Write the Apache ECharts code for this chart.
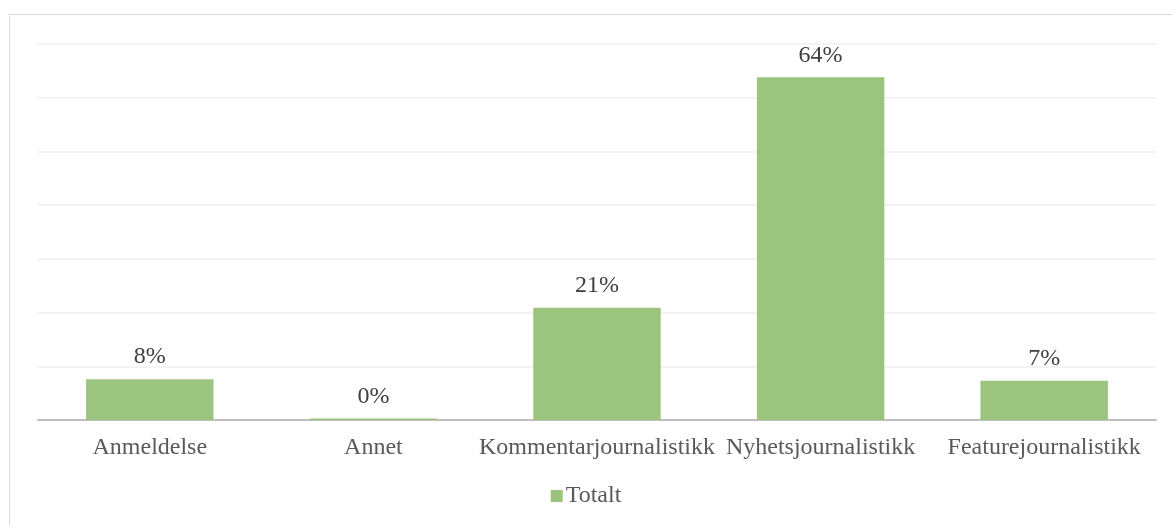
<!DOCTYPE html>
<html>
<head>
<meta charset="utf-8">
<script src="https://cdn.jsdelivr.net/npm/echarts@6/dist/echarts.min.js"></script>
<style>
  html, body { margin: 0; padding: 0; background: #fff; }
  #main { width: 1172px; height: 525px; }
</style>
</head>
<body>
<div id="main"></div>
<script>
// kategorier og verdier (andel)
var categories = ['Anmeldelse', 'Annet', 'Kommentarjournalistikk', 'Nyhetsjournalistikk', 'Featurejournalistikk'];
var totalt = [0.076, 0.003, 0.209, 0.638, 0.073];
var seriesName = 'Totalt';

var chart = echarts.init(document.getElementById('main'));
var font = '"Liberation Serif", "Times New Roman", serif';

chart.setOption({
  animation: false,
  textStyle: { fontFamily: font },
  graphic: [{
    type: 'rect',
    shape: { x: 9.5, y: 14.5, width: 1200, height: 520 },
    style: { fill: 'none', stroke: '#d9d9d9', lineWidth: 1 },
    silent: true
  }],
  grid: { left: 38, right: 16, top: 44, bottom: 105 },
  legend: {
    bottom: 12,
    left: 'center',
    itemWidth: 12,
    itemHeight: 12,
    itemGap: 4,
    icon: 'rect',
    textStyle: { fontFamily: font, fontSize: 24, color: '#595959', padding: [0, 0, 0, -2] },
    data: [seriesName]
  },
  xAxis: {
    type: 'category',
    data: categories,
    axisLine: { lineStyle: { color: '#bfbfbf', width: 2 } },
    axisTick: { show: false },
    axisLabel: { fontFamily: font, fontSize: 24, color: '#595959', margin: 16, interval: 0 }
  },
  yAxis: {
    type: 'value',
    min: 0,
    max: 0.7,
    interval: 0.1,
    axisLabel: { show: false },
    axisLine: { show: false },
    axisTick: { show: false },
    splitLine: { lineStyle: { color: '#efefef', width: 1.5 } }
  },
  series: [{
    name: seriesName,
    type: 'bar',
    data: totalt,
    barWidth: '57%',
    itemStyle: { color: '#9bc57e' },
    label: {
      show: true,
      position: 'top',
      distance: 10,
      fontFamily: font,
      fontSize: 24,
      color: '#404040',
      formatter: function (p) { return Math.round(p.value * 100) + '%'; }
    }
  }]
});
</script>
</body>
</html>
